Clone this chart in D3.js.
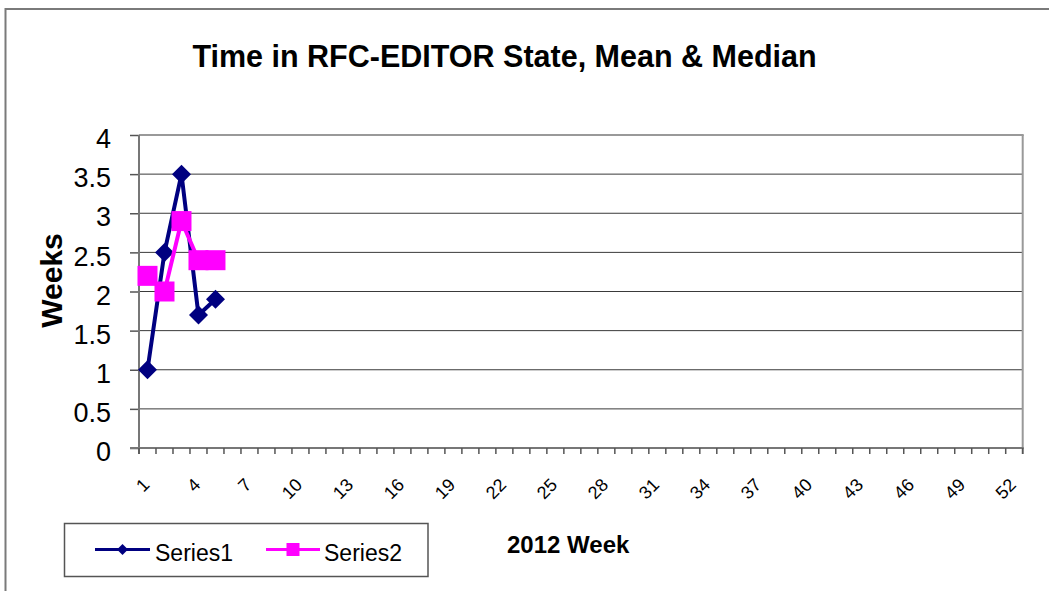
<!DOCTYPE html>
<html>
<head>
<meta charset="utf-8">
<script src="https://cdn.jsdelivr.net/npm/d3@7"></script>
<style>
  html, body { margin: 0; padding: 0; background: #fff; }
  svg { display: block; font-family: "Liberation Sans", Arial, sans-serif; }
</style>
</head>
<body>
<svg id="chart" width="1049" height="591"></svg>
<script>
// ---- data ----
const weeks = [1,2,3,4,5,6,7,8,9,10,11,12,13,14,15,16,17,18,19,20,21,22,23,24,25,26,
               27,28,29,30,31,32,33,34,35,36,37,38,39,40,41,42,43,44,45,46,47,48,49,50,51,52];
const series1 = [1, 2.5, 3.5, 1.7, 1.9];
const series2 = [2.2, 2.0, 2.9, 2.4, 2.4];
const seriesNames = ["Series1", "Series2"];
const xTickLabels = [1,4,7,10,13,16,19,22,25,28,31,34,37,40,43,46,49,52];
const yTicks = [0, 0.5, 1, 1.5, 2, 2.5, 3, 3.5, 4];
const title = "Time in RFC-EDITOR State, Mean & Median";
const xTitle = "2012 Week";
const yTitle = "Weeks";

// ---- layout ----
const svg = d3.select("#chart");
const plot = { left: 139, right: 1022.7, top: 135, bottom: 448 };
const colors = ["#000080", "#FF00FF"];

const x = d3.scaleBand().domain(weeks).range([plot.left, plot.right]).padding(0);
const y = d3.scaleLinear().domain([0, 4]).range([plot.bottom, plot.top]);
const cx = d => x(d) + x.bandwidth() / 2;

// outer frame
svg.append("rect")
  .attr("x", 5.5).attr("y", 9).attr("width", 1100).attr("height", 700)
  .attr("fill", "none").attr("stroke", "#7a7a7a").attr("stroke-width", 2);

// title
svg.append("text")
  .attr("x", 504.5).attr("y", 67)
  .attr("text-anchor", "middle")
  .attr("font-size", 30.5).attr("font-weight", "bold").attr("fill", "#000")
  .text(title);

// gridlines
svg.append("g").selectAll("line")
  .data(yTicks.filter(v => v > 0))
  .join("line")
  .attr("x1", plot.left).attr("x2", plot.right)
  .attr("y1", d => y(d)).attr("y2", d => y(d))
  .attr("stroke", "#3a3a3a").attr("stroke-width", 1);

// plot border top & right
svg.append("line")
  .attr("x1", plot.left).attr("x2", plot.right + 1)
  .attr("y1", plot.top).attr("y2", plot.top)
  .attr("stroke", "#999").attr("stroke-width", 2);
svg.append("line")
  .attr("x1", plot.right).attr("x2", plot.right)
  .attr("y1", plot.top).attr("y2", plot.bottom + 6)
  .attr("stroke", "#999").attr("stroke-width", 2);

// y axis
const yAxis = d3.axisLeft(y).tickValues(yTicks).tickSize(9).tickPadding(19)
  .tickFormat(d => String(d));
const gy = svg.append("g").attr("transform", `translate(${plot.left},0)`).call(yAxis);
gy.select(".domain").remove();
gy.selectAll(".tick line").attr("stroke", "#555").attr("stroke-width", 1.5);
gy.selectAll(".tick text")
  .attr("font-size", 27).attr("fill", "#000")
  .attr("font-family", "'Liberation Sans', Arial, sans-serif")
  .attr("dy", "0.47em");
svg.append("line")
  .attr("x1", plot.left).attr("x2", plot.left)
  .attr("y1", plot.top).attr("y2", plot.bottom + 6)
  .attr("stroke", "#777").attr("stroke-width", 2);

// x axis
svg.append("line")
  .attr("x1", plot.left - 9).attr("x2", plot.right + 1)
  .attr("y1", plot.bottom).attr("y2", plot.bottom)
  .attr("stroke", "#777").attr("stroke-width", 2);
const boundaries = weeks.map(d => x(d)).concat([x(weeks[weeks.length - 1]) + x.bandwidth()]);
svg.append("g").selectAll("line")
  .data(boundaries)
  .join("line")
  .attr("x1", d => d).attr("x2", d => d)
  .attr("y1", plot.bottom).attr("y2", plot.bottom + 6)
  .attr("stroke", "#555").attr("stroke-width", 1.5);
svg.append("g").selectAll("text")
  .data(xTickLabels)
  .join("text")
  .attr("transform", d => `translate(${cx(d) + 3},${plot.bottom + 38}) rotate(-45)`)
  .attr("text-anchor", "end")
  .attr("font-size", 18).attr("fill", "#000")
  .text(d => d);

// axis titles
svg.append("text")
  .attr("transform", "translate(61.5,280.5) rotate(-90)")
  .attr("text-anchor", "middle")
  .attr("font-size", 30).attr("font-weight", "bold").attr("fill", "#000")
  .text(yTitle);
svg.append("text")
  .attr("x", 507).attr("y", 553.3)
  .attr("font-size", 24).attr("font-weight", "bold").attr("fill", "#000")
  .text(xTitle);

// series
const line = d3.line().x((d, i) => cx(weeks[i])).y(d => y(d));
const diamond = (r) => `M0,${-r}L${r},0L0,${r}L${-r},0Z`;

svg.append("path").datum(series1)
  .attr("d", line).attr("fill", "none")
  .attr("stroke", colors[0]).attr("stroke-width", 4).attr("stroke-linejoin", "round");
svg.append("g").selectAll("path")
  .data(series1)
  .join("path")
  .attr("transform", (d, i) => `translate(${cx(weeks[i])},${y(d)})`)
  .attr("d", diamond(9.5))
  .attr("fill", colors[0]);

svg.append("path").datum(series2)
  .attr("d", line).attr("fill", "none")
  .attr("stroke", colors[1]).attr("stroke-width", 4).attr("stroke-linejoin", "round");
svg.append("g").selectAll("rect")
  .data(series2)
  .join("rect")
  .attr("x", (d, i) => cx(weeks[i]) - 10)
  .attr("y", d => y(d) - 10)
  .attr("width", 20).attr("height", 20)
  .attr("fill", colors[1]);

// legend
const lg = svg.append("g");
lg.append("rect")
  .attr("x", 64.5).attr("y", 523.5).attr("width", 363.5).attr("height", 53)
  .attr("fill", "#fff").attr("stroke", "#555").attr("stroke-width", 1.5);
const legendItems = [
  { x1: 95, x2: 150, tx: 155 },
  { x1: 266, x2: 320, tx: 324 }
];
legendItems.forEach((it, i) => {
  const ly = 549.5;
  lg.append("line")
    .attr("x1", it.x1).attr("x2", it.x2).attr("y1", ly).attr("y2", ly)
    .attr("stroke", colors[i]).attr("stroke-width", 3);
  const mx = (it.x1 + it.x2) / 2;
  if (i === 0) {
    lg.append("path").attr("transform", `translate(${mx},${ly})`)
      .attr("d", diamond(5.5)).attr("fill", colors[0]);
  } else {
    lg.append("rect").attr("x", mx - 6.5).attr("y", ly - 6.5)
      .attr("width", 13).attr("height", 13).attr("fill", colors[1]);
  }
  lg.append("text")
    .attr("x", it.tx).attr("y", 560.5)
    .attr("font-size", 23).attr("fill", "#000")
    .text(seriesNames[i]);
});
</script>
</body>
</html>
